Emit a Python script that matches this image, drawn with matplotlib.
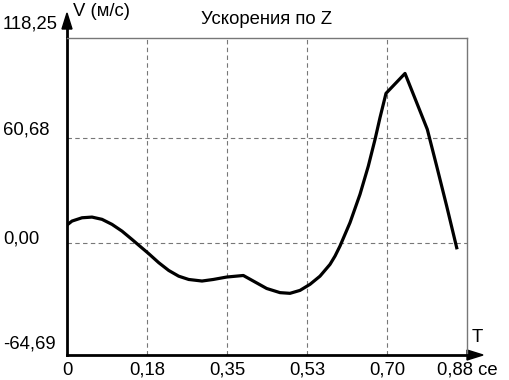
import matplotlib
matplotlib.use("Agg")
import matplotlib.pyplot as plt
from matplotlib.patches import Polygon
from matplotlib.transforms import blended_transform_factory, offset_copy

plt.rcParams['font.family'] = ['Liberation Sans', 'DejaVu Sans']

# Data
t_values = [0.000, 0.0109, 0.0328, 0.0547, 0.0766, 0.0984, 0.1203, 0.1422, 0.1568,
            0.1787, 0.2006, 0.2225, 0.2443, 0.2662, 0.2953, 0.3200, 0.3493, 0.3857,
            0.4075, 0.4368, 0.4659, 0.4878, 0.5097, 0.5316, 0.5534, 0.5753, 0.5863,
            0.5972, 0.6191, 0.6409, 0.6591, 0.6738, 0.6847, 0.6978, 0.7394, 0.7650,
            0.7882, 0.8087, 0.8306, 0.8525]
v_values = [10.3, 12.6, 14.5, 14.9, 13.6, 10.7, 6.8, 2.0, -1.3,
            -6.2, -11.4, -15.9, -19.2, -21.1, -22.0, -21.1, -19.7, -18.8,
            -22.0, -26.3, -28.7, -29.1, -27.4, -23.9, -19.2, -12.4, -7.6,
            -1.8, 11.7, 28.0, 44.3, 59.7, 72.3, 86.3, 97.8, 80.9,
            65.5, 44.3, 21.2, -2.8]

x_ticks = [0.0, 0.175, 0.35, 0.525, 0.70, 0.875]
x_tick_labels = ['0', '0,18', '0,35', '0,53', '0,70', '0,88 се']
y_ticks = [-64.69, 0.00, 60.68, 118.25]
y_tick_labels = ['-64,69', '0,00', '60,68', '118,25']
y_label_offsets_px = [11, 4, 7.5, 14]

title = 'Ускорения по Z'
y_axis_label = 'V (м/с)'
x_axis_label = 'T'

W, H = 510, 380
fig = plt.figure(figsize=(W / 100, H / 100), dpi=100)
ax = fig.add_axes([67 / W, (H - 355) / H, 400 / W, 317 / H])

ax.set_xlim(x_ticks[0], x_ticks[-1])
ax.set_ylim(y_ticks[0], y_ticks[-1])

# grid
grid_kw = dict(color='#777777', lw=0.8, linestyle=(0, (4, 3)), zorder=1)
for xv in x_ticks[1:-1]:
    ax.axvline(xv, **grid_kw)
for yv in y_ticks[1:-1]:
    ax.axhline(yv, **grid_kw)

# curve
ax.plot(t_values, v_values, color='black', lw=2.3, solid_joinstyle='round', zorder=3)

# spines
for s in ['top', 'right']:
    ax.spines[s].set_color('#777777')
    ax.spines[s].set_linewidth(1.0)
for s in ['left', 'bottom']:
    ax.spines[s].set_color('black')
    ax.spines[s].set_linewidth(2.0)

# arrows
ax.plot([0, 0], [1.0, 1.035], transform=ax.transAxes, color='black', lw=2.0,
        clip_on=False, solid_capstyle='butt')
ax.add_patch(Polygon([[0, (355 - 13) / 317], [-5 / 400, (355 - 29) / 317],
                      [5 / 400, (355 - 29) / 317]], closed=True,
                     transform=ax.transAxes, color='black', clip_on=False))
ax.plot([1.0, 1.005], [0, 0], transform=ax.transAxes, color='black', lw=2.0,
        clip_on=False, solid_capstyle='butt')
ax.add_patch(Polygon([[416 / 400, 0], [1.0, 5 / 317], [1.0, -5 / 317]], closed=True,
                     transform=ax.transAxes, color='black', clip_on=False))

# ticks
fs = 13.3
ax.set_xticks(x_ticks, x_tick_labels, fontsize=fs)
ax.tick_params(axis='x', length=0, pad=5)
ax.set_yticks([])

btrans = blended_transform_factory(fig.transFigure, ax.transData)
for yv, lab, off in zip(y_ticks, y_tick_labels, y_label_offsets_px):
    tr = offset_copy(btrans, fig=fig, x=0, y=off, units='dots')
    ax.text(3 / W, yv, lab, transform=tr, ha='left', va='center', fontsize=fs,
            clip_on=False)

ax.text(0.5, 1 + 18 / 317, title, transform=ax.transAxes, ha='center', va='center',
        fontsize=fs)
ax.text(6 / 400, (355 - 12) / 317, y_axis_label, transform=ax.transAxes, ha='left',
        va='center', fontsize=fs)
ax.text(1.026, 17 / 317, x_axis_label, transform=ax.transAxes, ha='center',
        va='center', fontsize=fs)

fig.savefig('out.png', dpi=100)
